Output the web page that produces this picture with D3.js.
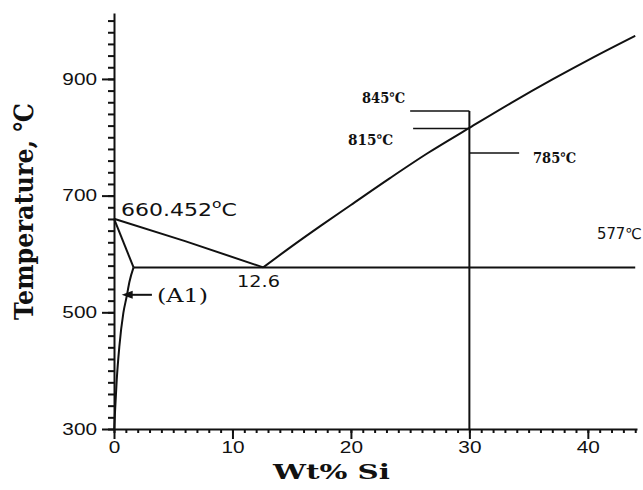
<!DOCTYPE html>
<html>
<head>
<meta charset="utf-8">
<script src="https://cdn.jsdelivr.net/npm/d3@7"></script>
<style>
  body { margin: 0; background: #fff; }
</style>
</head>
<body>
<div id="chart"></div>
<script>
// Al-Si phase diagram data (wt% Si, temperature in C)
var xMajorTicks = [0, 10, 20, 30, 40];
var yMajorTicks = [300, 500, 700, 900];

var liquidusAl = [[0, 660.452], [6, 622], [12.6, 577]];
var liquidusSi = [[12.6, 577], [15, 613], [17.5, 649], [20, 684], [23.3, 730], [26.5, 773],
                  [30, 816], [33.5, 858.5], [37.05, 899.5], [40.5, 937.5], [44, 974]];
var solidus = [[0, 660.452], [1.65, 577]];
var solvus = [[0.02, 300], [0.08, 327], [0.23, 384], [0.45, 441], [0.79, 499], [1.07, 527], [1.3, 552], [1.65, 577]];
var eutectic = [[1.65, 577], [44, 577]];

// composition line at 30 wt% and its temperature marks
var alloyLine = [[30, 300], [30, 845]];
var markTemps = [845, 815, 773];
var markFrom = [25, 25.25, 30];
var markTo = [30, 30, 34.2];
var markLabels = ["845\u2103", "815\u2103", "785\u2103"];

var width = 643, height = 490;

var svg = d3.select("#chart")
  .append("svg")
  .attr("width", width)
  .attr("height", height)
  .style("font-family", "'DejaVu Sans', sans-serif");

// scales
var x = d3.scaleLinear().domain([0, 44.15]).range([114, 637]);
var y = d3.scaleLinear().domain([300, 1013]).range([429, 13]);

// stretch a text horizontally so it fills a given width, left edge at (px, py)
function placeText(t, px, py, w) {
  var len = t.node().getComputedTextLength();
  t.attr("text-anchor", "start")
    .attr("transform", "translate(" + px + "," + py + ") scale(" + (w / len) + ",1)");
}

// x axis: minor ticks then major ticks
svg.append("g")
  .attr("transform", "translate(0," + y(300) + ")")
  .call(d3.axisBottom(x).tickValues(d3.range(0, 45, 1)).tickSize(4).tickFormat(""))
  .call(function (g) { g.select(".domain").remove(); });

var xAxis = svg.append("g")
  .attr("transform", "translate(0," + y(300) + ")")
  .call(d3.axisBottom(x).tickValues(xMajorTicks).tickSize(10).tickPadding(3).tickSizeOuter(0));
xAxis.selectAll("text")
  .style("font-size", "16px")
  .attr("fill", "#111")
  .attr("transform", "scale(1.3,1)");

// y axis: minor ticks then major ticks
svg.append("g")
  .attr("transform", "translate(" + x(0) + ",0)")
  .call(d3.axisLeft(y).tickValues(d3.range(300, 1001, 20)).tickSize(6).tickFormat(""))
  .call(function (g) { g.select(".domain").remove(); });

var yAxis = svg.append("g")
  .attr("transform", "translate(" + x(0) + ",0)")
  .call(d3.axisLeft(y).tickValues(yMajorTicks).tickSize(12).tickPadding(5).tickSizeOuter(0));
yAxis.selectAll("text")
  .style("font-size", "16px")
  .attr("fill", "#111")
  .attr("x", -17 / 1.3)
  .attr("transform", "scale(1.3,1)");

svg.selectAll(".domain, .tick line").attr("stroke", "#111").attr("stroke-width", 2);

// phase boundaries
var line = d3.line()
  .x(function (d) { return x(d[0]); })
  .y(function (d) { return y(d[1]); });

var curves = [liquidusAl, solidus, eutectic, alloyLine];
svg.selectAll("path.boundary")
  .data(curves)
  .enter().append("path")
  .attr("class", "boundary")
  .attr("d", line)
  .attr("fill", "none")
  .attr("stroke", "#111")
  .attr("stroke-width", 2);

var smooth = d3.line()
  .x(function (d) { return x(d[0]); })
  .y(function (d) { return y(d[1]); })
  .curve(d3.curveMonotoneX);

svg.selectAll("path.curve")
  .data([liquidusSi, solvus])
  .enter().append("path")
  .attr("class", "curve")
  .attr("d", smooth)
  .attr("fill", "none")
  .attr("stroke", "#111")
  .attr("stroke-width", 2);

// temperature marks at 30 wt%
svg.selectAll("line.mark")
  .data(markTemps)
  .enter().append("line")
  .attr("class", "mark")
  .attr("x1", function (d, i) { return x(markFrom[i]); })
  .attr("x2", function (d, i) { return x(markTo[i]); })
  .attr("y1", function (d) { return y(d); })
  .attr("y2", function (d) { return y(d); })
  .attr("stroke", "#111")
  .attr("stroke-width", 1.6);

var markLabelPos = [[362, 103, 43], [348, 145, 45], [533, 163, 43]];
markLabels.forEach(function (s, i) {
  var t = svg.append("text")
    .text(s)
    .style("font-family", "'DejaVu Serif', serif")
    .style("font-weight", "bold")
    .style("font-size", "14.5px")
    .attr("fill", "#111");
  placeText(t, markLabelPos[i][0], markLabelPos[i][1], markLabelPos[i][2]);
});

// melting point label
var mp = svg.append("text")
  .style("font-size", "17px")
  .attr("fill", "#111");
mp.append("tspan").text("660.452");
mp.append("tspan").text("o").style("font-size", "12px").attr("dy", -8);
mp.append("tspan").text("C").attr("dy", 8);
placeText(mp, 121, 216, 116);

// eutectic composition label
var eu = svg.append("text").text("12.6").style("font-size", "16px").attr("fill", "#111");
placeText(eu, 237, 287, 43);

// eutectic temperature label
var et = svg.append("text").text("577\u2103").style("font-size", "15px").attr("fill", "#111");
placeText(et, 597, 239, 45);

// (A1) arrow
var arrowT = 530;
svg.append("line")
  .attr("x1", x(3.2)).attr("x2", x(0.65) + 8)
  .attr("y1", y(arrowT)).attr("y2", y(arrowT))
  .attr("stroke", "#111").attr("stroke-width", 2);
svg.append("path")
  .attr("d", "M" + x(0.65) + "," + y(arrowT) + " l11,-4 l0,8 z")
  .attr("fill", "#111");
var a1 = svg.append("text").text("(A1)")
  .style("font-family", "'DejaVu Serif', serif")
  .style("font-size", "19px")
  .attr("fill", "#111");
placeText(a1, 157, 302, 51);

// axis titles
var xt = svg.append("text").text("Wt% Si")
  .style("font-family", "'DejaVu Serif', serif")
  .style("font-weight", "bold")
  .style("font-size", "20px")
  .attr("fill", "#111");
placeText(xt, 273, 479, 117);

var yt = svg.append("text").text("Temperature, \u2103")
  .style("font-family", "'DejaVu Serif', serif")
  .style("font-weight", "bold")
  .style("font-size", "21px")
  .attr("fill", "#111");
var ytLen = yt.node().getComputedTextLength();
yt.attr("transform", "translate(33,320) rotate(-90) scale(" + (217 / ytLen) + ",1.25)");
</script>
</body>
</html>
